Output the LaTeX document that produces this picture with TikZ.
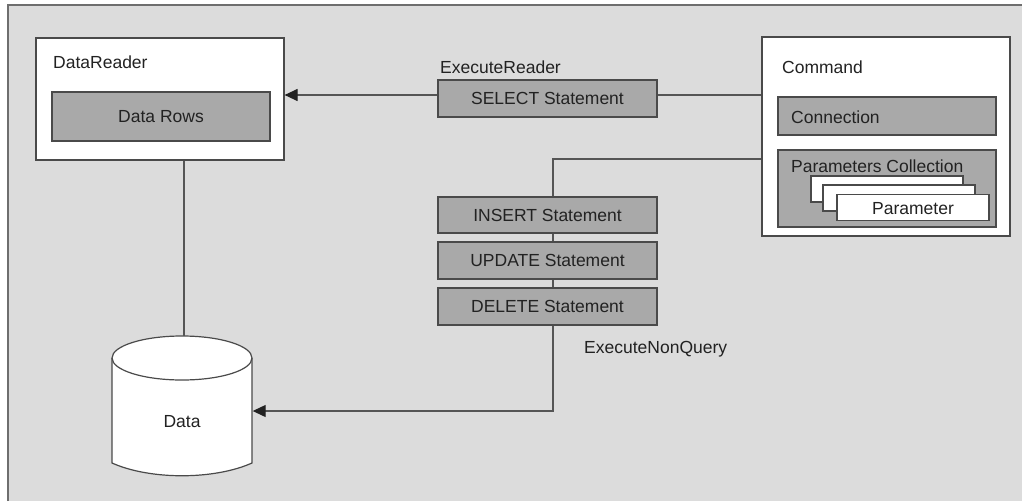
\documentclass[tikz,border=0pt]{standalone}
\usepackage{fontspec}
\setmainfont{Liberation Sans}
\usetikzlibrary{arrows.meta}
\definecolor{panel}{HTML}{DCDCDC}
\definecolor{boxgray}{HTML}{A9A9A9}
\definecolor{edge}{HTML}{4A4A4A}
\definecolor{wire}{HTML}{555555}
\definecolor{ink}{HTML}{222222}
\tikzset{
  every node/.style={font=\fontsize{17.5}{21}\selectfont, text=ink},
  outerbox/.style={draw=edge, fill=white, line width=1.2pt, inner sep=0pt},
  innerbox/.style={draw=edge, fill=boxgray, line width=1.2pt, inner sep=0pt},
  card/.style={draw=edge, fill=white, line width=1.1pt, inner sep=0pt,
               minimum width=152pt, minimum height=26pt},
  stmt/.style={innerbox, minimum width=219pt, minimum height=37pt},
  caption/.style={anchor=base west, inner sep=0pt},
  wireline/.style={draw=wire, line width=1.2pt},
  arrowline/.style={wireline, -{Triangle[length=13pt,width=12pt]}, arrows={[color=ink]}},
}
\begin{document}
\begin{tikzpicture}[x=1pt, y=-1pt]
  \useasboundingbox (0,0) rectangle (1022,501);
  % backdrop panel
  \fill[white] (0,0) rectangle (1022,501);
  \fill[panel] (8,5) rectangle (1022,501);
  \draw[draw=edge!80, line width=1.2pt] (8,501) -- (8,5) -- (1022,5);

  % DataReader
  \node[outerbox, minimum width=248pt, minimum height=122pt] (reader) at (160,99) {};
  \node[caption] (readerlbl) at (53,68) {DataReader};
  \node[innerbox, minimum width=218pt, minimum height=49pt] (rows) at (161,116.5) {Data Rows};

  % Command
  \node[outerbox, minimum width=248pt, minimum height=199pt] (command) at (886,136.5) {};
  \node[caption] (cmdlbl) at (782,73) {Command};
  \node[innerbox, minimum width=218pt, minimum height=38pt] (conn) at (887,116) {};
  \node[caption] (connlbl) at (791,123) {Connection};
  \node[innerbox, minimum width=218pt, minimum height=77pt] (params) at (887,188.5) {};
  \node[caption] (paramslbl) at (791,172) {Parameters Collection};
  \node[card] (card1) at (887,189) {};
  \node[card] (card2) at (899,198) {};
  \node[card] (card3) at (913,207.5) {};
  \node[anchor=base, inner sep=0pt] (cardlbl) at (913,214) {Parameter};

  % statements
  \node[stmt] (select) at (547.5,98.5) {SELECT Statement};
  \node[caption] (readlbl) at (440,73) {ExecuteReader};
  \node[stmt, minimum height=36pt] (insert) at (547.5,215) {INSERT Statement};
  \node[stmt] (update) at (547.5,260.5) {UPDATE Statement};
  \node[stmt] (delete) at (547.5,306.5) {DELETE Statement};
  \node[caption] (nqlbl) at (584,353) {ExecuteNonQuery};

  % data store
  \node[minimum width=141pt, minimum height=130pt, inner sep=0pt] (data) at (182,411) {};
  \draw[draw=edge, fill=white, line width=1.2pt]
    (112,358) -- (112,463) .. controls (150,480) and (214,480) .. (252,463) -- (252,358)
    arc[start angle=0, end angle=180, x radius=70pt, y radius=22pt] -- cycle;
  \draw[draw=edge, line width=1.2pt]
    (112,358) arc[start angle=180, end angle=360, x radius=70pt, y radius=22pt];
  \coordinate (datatop) at (184,336);
  \node[anchor=base, inner sep=0pt] (datalbl) at (182,427) {Data};

  % connectors
  \coordinate (selrow) at (command.west |- 0,95);
  \coordinate (nqrow) at (command.west |- 0,159);
  \coordinate (nqcol) at (553,159);
  \draw[wireline] (selrow) -- (select.east |- selrow);
  \draw[arrowline] (select.west |- selrow) -- (reader.east |- selrow);
  \draw[wireline] (nqrow) -- (nqcol) -- (nqcol |- insert.north);
  \draw[wireline] (nqcol |- insert.south) -- (nqcol |- update.north);
  \draw[wireline] (nqcol |- update.south) -- (nqcol |- delete.north);
  \draw[arrowline] (nqcol |- delete.south) -- (nqcol |- data.east) -- (data.east);
  \draw[wireline] (reader.south -| datatop) -- (datatop);
\end{tikzpicture}
\end{document}
